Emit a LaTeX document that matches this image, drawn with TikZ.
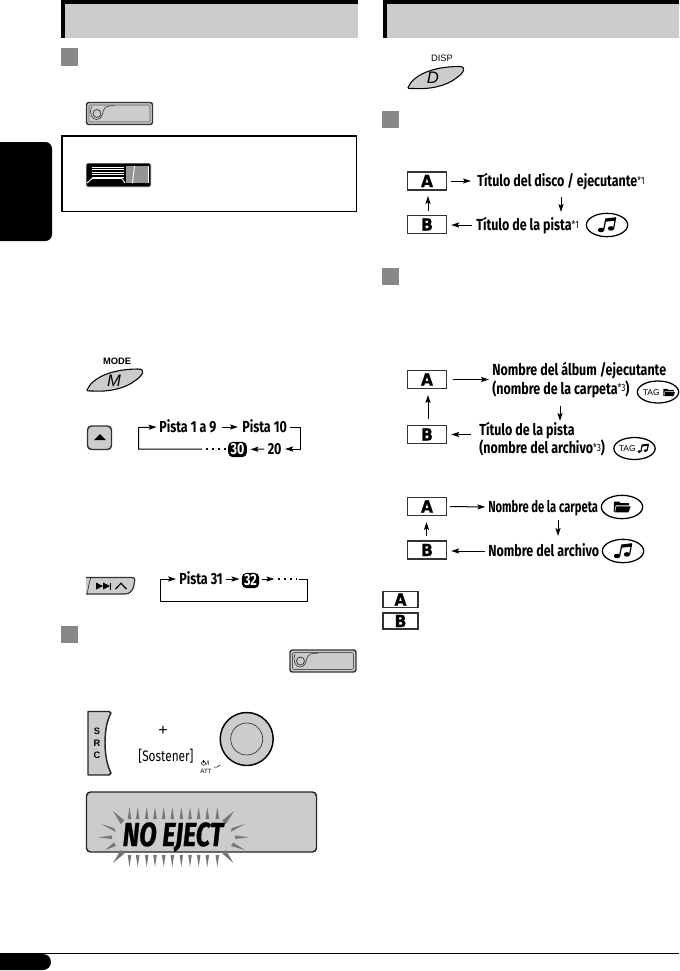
\documentclass[tikz,border=0pt]{standalone}
\usepackage{fontspec}
\usetikzlibrary{arrows.meta,shapes.geometric}
\setmainfont{Fira Sans}
\newfontfamily\condfam[FakeStretch=0.78]{Fira Sans}
\newfontfamily\tightfam[FakeStretch=0.70]{Fira Sans}
\newfontfamily\ejectfam[FakeStretch=0.76,FakeBold=0.8]{Fira Sans}
\newfontfamily\arialfam{Liberation Sans}
\newfontfamily\heavyfam[FakeStretch=0.93,FakeBold=1.2]{DejaVu Sans}
\newcommand\footmark[1]{\raisebox{1.8pt}{\fontsize{8}{8}\selectfont\mdseries *#1}}
\definecolor{panel}{HTML}{CCCCCC}
\definecolor{squaregray}{HTML}{888888}
\definecolor{edge}{HTML}{333333}
\definecolor{raygray}{HTML}{777777}
\tikzset{
  arr/.style={line width=0.75pt,-{Stealth[length=6pt,width=3.8pt,inset=1.2pt]}},
  ln/.style={line width=0.75pt},
  dotted row/.style={line width=1.4pt,dash pattern=on 1.3pt off 3.2pt},
  lbl/.style={font=\condfam\bfseries\fontsize{12}{13}\selectfont,inner sep=0pt,text height=8.3pt,text depth=0pt,anchor=west},
  lbltwo/.style={font=\condfam\bfseries\fontsize{12}{12.9}\selectfont,inner sep=0pt,anchor=west,align=left},
  numbox/.style={fill=black,text=white,rounded corners=3.5pt,inner sep=0pt,minimum width=14pt,minimum height=11.5pt,font=\condfam\bfseries\fontsize{12}{13}\selectfont},
  abox/.style={draw=edge,line width=1.1pt,fill=white,inner sep=0pt,minimum width=29.2pt,minimum height=13.4pt,font=\heavyfam\bfseries\fontsize{12.5}{13}\selectfont},
  lbox/.style={draw=edge,line width=1.1pt,fill=white,inner sep=0pt,minimum width=26pt,minimum height=12.2pt,font=\heavyfam\bfseries\fontsize{12.5}{13}\selectfont},
  oval/.style={ellipse,draw=black,line width=0.95pt,inner sep=0pt,minimum width=31pt,minimum height=17.5pt},
  tagtxt/.style={font=\arialfam\fontsize{6.4}{7}\selectfont,inner sep=0pt},
  sq/.style={fill=squaregray},
  ray/.style={fill=raygray},
  ejectbtn/.pic={
    \draw[edge,line width=1.1pt,fill=panel,rounded corners=1.8pt] (0,0) rectangle (66,22);
    \draw[black!65,line width=0.4pt,rounded corners=1pt] (2.5,2.5) rectangle (63.5,19.5);
    \draw[black!75,line width=0.6pt] (10.5,11) circle (4);
    \draw[black!75,line width=0.5pt] (5,4) .. controls (2.5,10) and (5,17) .. (10,17) .. controls (15,17) and (16,12) .. (17,8) .. controls (18,4) and (22,3.2) .. (28,3.2);
  },
  ovalbtn/.pic={
    \draw[black,line width=0.8pt,fill=panel] (1,21) .. controls (6,9) and (25,0) .. (52,0) .. controls (60,0) and (57,6) .. (50,11) .. controls (39,20) and (22,23) .. (7,22) .. controls (2,22) and (0,22) .. (1,21) -- cycle;
  },
  notepic/.pic={
    \fill[black] (-6,5) ellipse (3.2 and 2.3);
    \fill[black] (4,3.4) ellipse (3.2 and 2.3);
    \draw[black,line width=0.9pt] (-3.4,5) -- (-1.2,-6);
    \draw[black,line width=0.9pt] (6.6,3.4) -- (8.6,-7);
    \fill[black] (-1.6,-6.5) -- (8.9,-7.8) -- (8.4,-4.4) -- (-2.1,-3.2) -- cycle;
  },
  folderpic/.pic={
    \fill[black] (-9,-6) -- (-3,-6) -- (-1.5,-4.2) -- (8,-4.2) -- (8,-1.8) -- (-7,-1.8) -- (-8.4,5.5) -- (-9.2,5.5) -- cycle;
    \fill[black] (-6.2,-0.6) -- (9.6,-0.6) -- (7.2,6) -- (-7.8,6) -- cycle;
  },
}
\begin{document}
\begin{tikzpicture}[x=0.75pt,y=-0.75pt]
\useasboundingbox (0,0) rectangle (679,971);
\fill[white] (0,0) rectangle (679,971);

% headers
\fill[panel] (61,0) rectangle (358,38);
\fill[black] (61,0) rectangle (358,4);
\fill[black] (61,0) rectangle (65,38);
\fill[panel] (383,0) rectangle (679,38);
\fill[black] (383,0) rectangle (679,4);
\fill[black] (383,0) rectangle (387,38);

% side tab and foot
\fill[black,rounded corners=5pt] (0,142) -- (52,142) -- (52,241) -- (0,241);
\fill[black,rounded corners=6pt] (0,954) -- (51,954) -- (51,970) -- (0,970);
\draw[black,line width=1.1pt] (0,953.3) -- (679,953.3);

% gray squares
\fill[sq] (61,48) rectangle (78,66);
\fill[sq] (61,626) rectangle (78,643);
\fill[sq] (382,111) rectangle (399,128);
\fill[sq] (382,268) rectangle (399,285);

% eject button
\pic at (86.5,102.5) {ejectbtn};
\pic at (290,650) {ejectbtn};

% framed box with open panel
\draw[black,line width=1.3pt] (61.8,135.8) rectangle (356.5,211.5);
\fill[black,rounded corners=1pt] (86,163) rectangle (151,187);
\draw[white,line width=0.5pt,rounded corners=1pt] (86,163) rectangle (151,187);
\fill[squaregray!90!white] (126,166) rectangle (149,183);
\draw[white,line width=0.7pt] (134.5,166) -- (132.5,183);
\draw[white,line width=0.7pt] (148,166) -- (148,183);
\foreach \y in {167,169.5,172,174.5,177}
  \draw[white,line width=0.6pt] (92,\y) -- (124,\y);
\draw[white,line width=0.7pt] (87,183) -- (92,178.5) -- (122,178.5) -- (125,183);

% MODE
\node[font=\arialfam\bfseries\fontsize{7}{8}\selectfont,inner sep=0pt] (modelbl) at (117,361) {MODE};
\pic at (86,369) {ovalbtn};
\node[font=\arialfam\itshape\fontsize{12.5}{13}\selectfont,inner sep=0pt] (modeM) at (114,381) {M};

% up button
\draw[edge,line width=1.1pt,fill=panel,rounded corners=3pt] (87.5,426) rectangle (111.5,449.5);
\fill[black] (94,440) -- (106,440) -- (100,434) -- cycle;

% chain 1
\node[lbl] (p1) at (159,427) {Pista 1 a 9};
\node[lbl] (p10) at (242,427) {Pista 10};
\node[lbl] (n20) at (267.5,449) {20};
\node[numbox] (n30) at (237.5,449.5) {30};
\coordinate (dotsR) at (225.5,449);
\coordinate (dotsL) at (205,449);
\coordinate (loopB) at (138.5,449);
\coordinate (loopT) at (138.5,427.5);
\coordinate (rightT) at (300.5,427.5);
\coordinate (rightB) at (300.5,449);
\draw[arr,shorten <=4pt,shorten >=3pt] (p1.east) -- (p10.west);
\draw[ln] (p10.east) ++(3,0.5) -- (rightT) -- (rightB);
\draw[arr,shorten >=2.5pt] (rightB) -- (n20.east);
\draw[arr,shorten <=2.5pt,shorten >=2.5pt] (n20.west) -- (n30.east);
\draw[dotted row] (dotsR) -- (dotsL);
\draw[arr,shorten >=1.8pt] (dotsL) ++(-3,0) -- (loopB) -- (loopT) -- (p1.west);

% skip button
\draw[edge,line width=0.9pt,fill=panel] (86,577.5) -- (131,577.5) .. controls (135,577.5) and (135,579) .. (134.5,582) .. controls (134,589) and (131,594) .. (125,594) -- (86,594);
\draw[edge,line width=0.5pt] (91,577.5) .. controls (88.5,583) and (88.5,589) .. (87,594);
\fill[black] (96,582.5) -- (103,586) -- (96,589.5) -- cycle;
\fill[black] (103,582.5) -- (110,586) -- (103,589.5) -- cycle;
\fill[black] (110,582.5) rectangle (111.2,589.5);
\draw[black,line width=0.9pt] (115.5,589) -- (121,583.3) -- (126.5,589);

% chain 2
\node[lbl] (p31) at (179,579) {Pista 31};
\node[numbox,minimum width=13pt] (n32) at (250.5,580.5) {32};
\coordinate (d2L) at (278,579);
\coordinate (d2R) at (297,579);
\coordinate (c2a) at (299,579);
\coordinate (c2b) at (307,579);
\coordinate (c2c) at (307,601);
\coordinate (c2d) at (160.5,601);
\coordinate (c2e) at (160.5,579);
\draw[arr,shorten <=2pt,shorten >=1.5pt] (p31.east) -- (n32.west |- p31.east);
\draw[arr,shorten <=2pt] (n32.east |- d2L) -- ++(15,0);
\draw[dotted row] (d2L) -- (d2R);
\draw[arr,shorten >=2.2pt] (c2a) -- (c2b) -- (c2c) -- (c2d) -- (c2e) -- (p31.west);

% SRC
\draw[black!85,line width=1.1pt,fill=panel,line join=round] (88,711.5) -- (109,711.5) -- (111,713) .. controls (103,727) and (103,758) .. (111,773) -- (109,775) -- (88,775) -- cycle;
\node[font=\arialfam\bfseries\fontsize{7}{8}\selectfont,inner sep=0pt] (srcS) at (97,731) {S};
\node[font=\arialfam\bfseries\fontsize{7}{8}\selectfont,inner sep=0pt] (srcR) at (97,743.5) {R};
\node[font=\arialfam\bfseries\fontsize{7}{8}\selectfont,inner sep=0pt] (srcC) at (97,755.5) {C};
\node[font=\arialfam\fontsize{12}{14}\selectfont,inner sep=0pt] (plus) at (163,731) {+};
\node[font=\condfam\fontsize{11.4}{13}\selectfont,inner sep=0pt] (sos) at (166,756) {[Sostener]};
\draw[black,line width=1.1pt,fill=panel] (246.7,739) circle (26.5);
\draw[black!80,line width=0.5pt] (246.7,739) circle (16);
\draw[black,line width=0.4pt] (203.5,763.3) circle (2);
\draw[black,line width=0.4pt] (203.5,760) -- (203.5,763);
\node[font=\arialfam\fontsize{4.6}{5}\selectfont,inner sep=0pt,anchor=west] (slash) at (206,763) {/I};
\node[font=\arialfam\fontsize{4.6}{5}\selectfont,inner sep=0pt] (att) at (206,771) {ATT};
\draw[black,line width=0.4pt] (214,767) .. controls (216,768) and (218,767) .. (220,765);

% display
\draw[black!85,line width=1.1pt,fill=panel,rounded corners=3pt] (86.5,792) rectangle (316.5,852);
\foreach \x in {129.5,137.7,146.7,155,163.7,172.3,181.3,190,198.7,207.3,217.3} {
  \fill[ray] (\x-1.8,819) -- (\x+1.8,819) -- (\x,807) -- cycle;
  \fill[ray] (\x-1.8,855) -- (\x+1.8,855) -- (\x,867) -- cycle;
}
\fill[ray] (113,811) -- (120.7,824) -- (124.5,820.5) -- cycle;
\fill[ray] (234,811) -- (226,824) -- (222.3,820.5) -- cycle;
\fill[ray] (113,863) -- (120.7,850) -- (124.5,853.5) -- cycle;
\fill[ray] (233.3,863) -- (226,850) -- (222.3,853.5) -- cycle;
\fill[ray] (101,824) -- (114,828) -- (116,832) -- cycle;
\fill[ray] (98,837.3) -- (112,835.5) -- (112,839) -- cycle;
\fill[ray] (105,850) -- (114,842.5) -- (116,846) -- cycle;
\fill[ray] (245,824) -- (232,828) -- (230.5,832) -- cycle;
\fill[ray] (249.3,837.3) -- (235,835.5) -- (235,839) -- cycle;
\fill[ray] (245,850) -- (233,842.5) -- (231,846) -- cycle;
\node[font=\ejectfam\bfseries\itshape\fontsize{25}{26}\selectfont,inner sep=0pt] (noeject) at (173,837) {NO EJECT};

% DISP
\node[font=\arialfam\fontsize{7}{8}\selectfont,inner sep=0pt] (displbl) at (442,58) {DISP};
\pic at (407,66.5) {ovalbtn};
\node[font=\arialfam\itshape\fontsize{12.5}{13}\selectfont,inner sep=0pt] (dispD) at (433,78) {D};

% group 1
\node[abox] (a1) at (427,181) {A};
\node[abox] (b1) at (427,224.5) {B};
\node[lbl] (t1) at (477,181) {Título del disco / ejecutante\footmark{1}};
\node[lbl] (t2) at (476,225) {Título de la pista\footmark{1}};
\node[oval] (o1) at (607,225) {};
\pic at (o1) {notepic};
\coordinate (d1a) at (561,197);
\coordinate (d1b) at (561,212);
\coordinate (u1a) at (428,211);
\coordinate (u1b) at (428,196);
\draw[arr,shorten <=3pt,shorten >=4.5pt] (a1.east) -- (t1.west);
\draw[arr,shorten <=3pt,shorten >=3pt] (t2.west) -- (b1.east |- t2.west);
\draw[arr] (d1a) -- (d1b);
\draw[arr] (u1a) -- (u1b);

% group 2
\node[abox] (a2) at (427,379.5) {A};
\node[abox] (b2) at (427,434.5) {B};
\node[lbltwo] (t3) at (492,380) {Nombre del álbum /ejecutante\\(nombre de la carpeta\footmark{3})};
\node[lbltwo] (t4) at (479,439) {Título de la pista\\(nombre del archivo\footmark{3})};
\node[oval,minimum width=31pt,minimum height=16.5pt] (o2) at (658,392) {};
\node[tagtxt,anchor=east] (tag2) at (660,393) {TAG};
\pic[scale=0.62] at (669,392.5) {folderpic};
\node[oval,minimum width=31pt,minimum height=16.5pt] (o3) at (634.5,448.5) {};
\node[tagtxt,anchor=east] (tag3) at (636,449) {TAG};
\pic[scale=0.62] at (643,448.5) {notepic};
\coordinate (a2end) at (489,379.5);
\coordinate (b2start) at (471,434.5);
\coordinate (d2a) at (560,406);
\coordinate (d2b) at (560,421);
\coordinate (u2a) at (428,419);
\coordinate (u2b) at (428,395);
\draw[arr,shorten <=4pt] (a2.east) -- (a2end);
\draw[arr,shorten >=3pt] (b2start) -- (b2.east);
\draw[arr] (d2a) -- (d2b);
\draw[arr] (u2a) -- (u2b);

% group 3
\node[abox] (a3) at (427,506.5) {A};
\node[abox] (b3) at (427,550) {B};
\node[lbl,font=\tightfam\bfseries\fontsize{12}{13}\selectfont] (t5) at (488,507) {Nombre de la carpeta};
\node[lbl] (t6) at (488,551) {Nombre del archivo};
\node[oval] (o4) at (622,507) {};
\pic[scale=0.9] at (o4) {folderpic};
\node[oval] (o5) at (623,551) {};
\pic at (o5) {notepic};
\coordinate (d3a) at (558,520);
\coordinate (d3b) at (558,536);
\coordinate (u3a) at (426.5,536);
\coordinate (u3b) at (426.5,522);
\draw[arr,shorten <=2pt,shorten >=2pt] (a3.east) -- (t5.west);
\draw[arr,shorten <=2.4pt,shorten >=3pt] (t6.west) -- (b3.east |- t6.west);
\draw[arr] (d3a) -- (d3b);
\draw[arr] (u3a) -- (u3b);

% legend
\node[lbox] (la) at (400.5,599.5) {A};
\node[lbox] (lb) at (400.5,621) {B};
\end{tikzpicture}
\end{document}
